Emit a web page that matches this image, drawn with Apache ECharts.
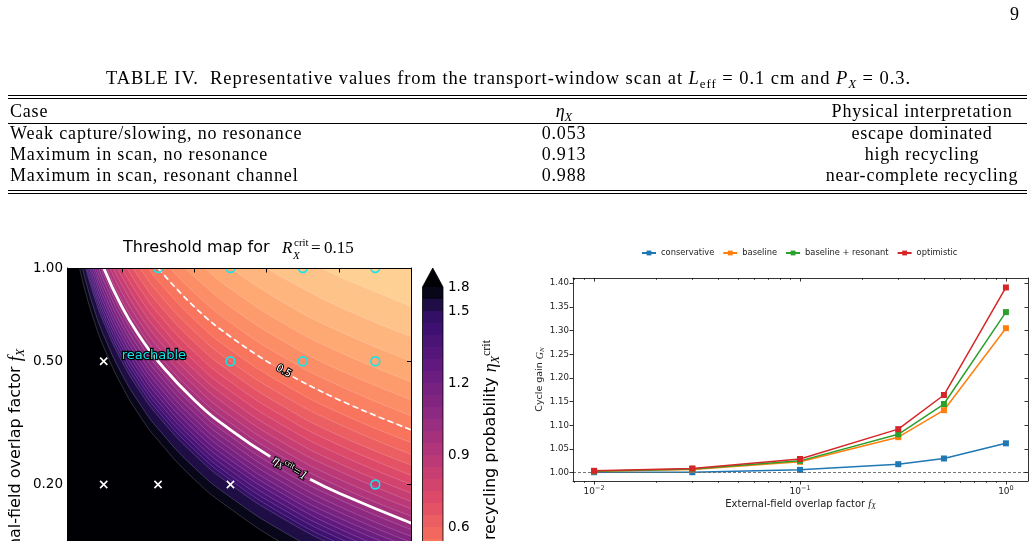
<!DOCTYPE html>
<html>
<head>
<meta charset="utf-8">
<title>Transport-window scan</title>
<script src="https://cdn.jsdelivr.net/npm/echarts@6/dist/echarts.min.js"></script>
<style>
  html, body { margin: 0; padding: 0; background: #fff; overflow: hidden; }
  body { width: 1035px; height: 541px; position: relative; font-family: "Liberation Serif", serif; color: #000; }
  #chart { position: absolute; left: 0; top: 0; width: 1035px; height: 700px; }
  .txt { position: absolute; white-space: nowrap; line-height: 1; }
  .mid { transform: translateX(-50%); }
  .rule { position: absolute; left: 8px; width: 1019px; height: 0; border-top: 1px solid #000; }
  sub { font-size: 70%; vertical-align: -0.3em; line-height: 0; }
</style>
</head>
<body>
<div id="chart"></div>
<div id="table"></div>
<script>
// ---------- table IV ----------
const tableCases = ['Weak capture/slowing, no resonance', 'Maximum in scan, no resonance', 'Maximum in scan, resonant channel'];
const tableEta = ['0.053', '0.913', '0.988'];
const tableMeaning = ['escape dominated', 'high recycling', 'near-complete recycling'];

// ---------- right panel: cycle gain ----------
const overlapFactors = [0.01, 0.03, 0.1, 0.3, 0.5, 1.0];
const gainConservative = [1.001, 1.001, 1.006, 1.018, 1.030, 1.062];
const gainBaseline = [1.003, 1.007, 1.023, 1.075, 1.132, 1.305];
const gainResonant = [1.003, 1.008, 1.025, 1.081, 1.145, 1.339];
const gainOptimistic = [1.004, 1.009, 1.029, 1.092, 1.164, 1.391];
const gainTicks = [1.00, 1.05, 1.10, 1.15, 1.20, 1.25, 1.30, 1.35, 1.40];
const overlapMajorTicks = [0.01, 0.1, 1];
const overlapMinorTicks = [0.008, 0.009, 0.02, 0.03, 0.04, 0.05, 0.06, 0.07, 0.08, 0.09, 0.2, 0.3, 0.4, 0.5, 0.6, 0.7, 0.8, 0.9];

// ---------- left panel: threshold map ----------
const mapXTicks = [0.2, 0.4, 0.6, 0.8, 1.0];
const mapFTicks = [1.0, 0.5, 0.2, 0.1, 0.05];
const cbLevels = [0, 0.05, 0.1, 0.15, 0.2, 0.25, 0.3, 0.35, 0.4, 0.45, 0.5, 0.55, 0.6, 0.65, 0.7, 0.75,
  0.8, 0.85, 0.9, 0.95, 1.0, 1.05, 1.1, 1.15, 1.2, 1.25, 1.3, 1.35, 1.4, 1.45, 1.5, 1.65, 1.8];
const cbTicks = [0, 0.3, 0.6, 0.9, 1.2, 1.5, 1.8];
// contour lines: [x, fX] points, starting where each one leaves the top edge
const contourLevels = [0.2, 0.25, 0.3, 0.35, 0.4, 0.45, 0.5, 0.55, 0.6, 0.65, 0.7, 0.75, 0.8, 0.85, 0.9, 0.95,
  1.0, 1.05, 1.1, 1.15, 1.2, 1.25, 1.3, 1.35, 1.4, 1.45, 1.5, 1.65, 1.8];
const contourPaths = [
  [[0.75, 1], [0.8, 0.938], [1, 0.75]],
  [[0.6, 1], [0.65, 0.923], [0.8, 0.75], [1, 0.6]],
  [[0.5, 1], [0.65, 0.769], [0.8, 0.625], [1, 0.5]],
  [[0.429, 1], [0.5, 0.857], [0.65, 0.659], [0.8, 0.536], [1, 0.429]],
  [[0.375, 1], [0.4, 0.938], [0.5, 0.75], [0.65, 0.577], [0.8, 0.469], [1, 0.375]],
  [[0.333, 1], [0.4, 0.833], [0.5, 0.667], [0.65, 0.513], [0.8, 0.417], [1, 0.333]],
  [[0.3, 1], [0.4, 0.75], [0.5, 0.6], [0.65, 0.462], [0.8, 0.375], [1, 0.3]],
  [[0.273, 1], [0.3, 0.909], [0.4, 0.682], [0.5, 0.545], [0.65, 0.42], [0.8, 0.341], [1, 0.273]],
  [[0.25, 1], [0.3, 0.833], [0.4, 0.625], [0.5, 0.5], [0.65, 0.385], [0.8, 0.313], [1, 0.25]],
  [[0.231, 1], [0.25, 0.923], [0.3, 0.769], [0.4, 0.577], [0.5, 0.462], [0.65, 0.355], [0.8, 0.288], [1, 0.231]],
  [[0.214, 1], [0.25, 0.857], [0.3, 0.714], [0.4, 0.536], [0.5, 0.429], [0.65, 0.33], [0.8, 0.268], [1, 0.214]],
  [[0.2, 1], [0.25, 0.8], [0.3, 0.667], [0.4, 0.5], [0.5, 0.4], [0.65, 0.308], [0.8, 0.25], [1, 0.2]],
  [[0.1875, 1], [0.2, 0.938], [0.25, 0.75], [0.3, 0.625], [0.4, 0.469], [0.5, 0.375], [0.65, 0.288], [0.8, 0.234], [1, 0.1875]],
  [[0.176, 1], [0.2, 0.882], [0.25, 0.706], [0.3, 0.588], [0.4, 0.441], [0.5, 0.353], [0.65, 0.271], [0.8, 0.221], [1, 0.176]],
  [[0.167, 1], [0.2, 0.833], [0.25, 0.667], [0.3, 0.556], [0.4, 0.417], [0.5, 0.333], [0.65, 0.256], [0.8, 0.208], [1, 0.167]],
  [[0.158, 1], [0.2, 0.789], [0.25, 0.632], [0.3, 0.526], [0.4, 0.395], [0.5, 0.316], [0.65, 0.243], [0.8, 0.197], [1, 0.158]],
  [[0.15, 1], [0.2, 0.75], [0.25, 0.6], [0.3, 0.5], [0.4, 0.375], [0.5, 0.3], [0.65, 0.231], [0.8, 0.1875], [1, 0.15]],
  [[0.143, 1], [0.15, 0.952], [0.2, 0.714], [0.25, 0.571], [0.3, 0.476], [0.4, 0.357], [0.5, 0.286], [0.65, 0.22], [0.8, 0.179], [1, 0.143]],
  [[0.136, 1], [0.15, 0.909], [0.2, 0.682], [0.25, 0.545], [0.3, 0.455], [0.4, 0.341], [0.5, 0.273], [0.65, 0.21], [0.8, 0.17], [1, 0.136]],
  [[0.13, 1], [0.15, 0.87], [0.2, 0.652], [0.25, 0.522], [0.3, 0.435], [0.4, 0.326], [0.5, 0.261], [0.65, 0.201], [0.8, 0.163], [1, 0.13]],
  [[0.125, 1], [0.15, 0.833], [0.2, 0.625], [0.25, 0.5], [0.3, 0.417], [0.4, 0.313], [0.5, 0.25], [0.65, 0.192], [0.8, 0.156], [1, 0.125]],
  [[0.12, 1], [0.125, 0.96], [0.15, 0.8], [0.2, 0.6], [0.25, 0.48], [0.3, 0.4], [0.4, 0.3], [0.5, 0.24], [0.65, 0.185], [0.8, 0.15], [1, 0.12]],
  [[0.115, 1], [0.125, 0.923], [0.15, 0.769], [0.2, 0.577], [0.25, 0.462], [0.3, 0.385], [0.4, 0.288], [0.5, 0.231], [0.65, 0.178], [0.8, 0.144], [1, 0.115]],
  [[0.111, 1], [0.125, 0.889], [0.15, 0.741], [0.2, 0.556], [0.25, 0.444], [0.3, 0.37], [0.4, 0.278], [0.5, 0.222], [0.65, 0.171], [0.8, 0.139], [1, 0.111]],
  [[0.107, 1], [0.125, 0.857], [0.15, 0.714], [0.2, 0.536], [0.25, 0.429], [0.3, 0.357], [0.4, 0.268], [0.5, 0.214], [0.65, 0.165], [0.8, 0.134], [1, 0.107]],
  [[0.103, 1], [0.125, 0.828], [0.15, 0.69], [0.2, 0.517], [0.25, 0.414], [0.3, 0.345], [0.4, 0.259], [0.5, 0.207], [0.65, 0.159], [0.8, 0.129], [1, 0.103]],
  [[0.1, 1], [0.125, 0.8], [0.15, 0.667], [0.2, 0.5], [0.25, 0.4], [0.3, 0.333], [0.4, 0.25], [0.5, 0.2], [0.65, 0.154], [0.8, 0.125], [1, 0.1]],
  [[0.0909, 1], [0.1, 0.909], [0.125, 0.727], [0.15, 0.606], [0.2, 0.455], [0.25, 0.364], [0.3, 0.303], [0.4, 0.227], [0.5, 0.182], [0.65, 0.14], [0.8, 0.114], [1, 0.0909]],
  [[0.0833, 1], [0.1, 0.833], [0.125, 0.667], [0.15, 0.556], [0.2, 0.417], [0.25, 0.333], [0.3, 0.278], [0.4, 0.208], [0.5, 0.167], [0.65, 0.128], [0.8, 0.104], [1, 0.0833]]
];
// the two highlighted contours, broken where their labels sit
const critLineParts = [
  [[0.15, 1], [0.2, 0.75], [0.25, 0.6], [0.3, 0.5], [0.4, 0.375], [0.5, 0.3], [0.61, 0.246]],
  [[0.72, 0.208], [0.8, 0.1875], [1, 0.15]]
];
const halfLineParts = [
  [[0.3, 1], [0.4, 0.75], [0.5, 0.6], [0.62, 0.484]],
  [[0.672, 0.446], [0.8, 0.375], [1, 0.3]]
];
const reachablePts = [[0.3, 1], [0.5, 1], [0.7, 1], [0.9, 1], [0.5, 0.5], [0.7, 0.5], [0.9, 0.5], [0.9, 0.2]];
const blockedPts = [[0.15, 0.5], [0.15, 0.2], [0.3, 0.2], [0.5, 0.2]];
// map annotations: position [x, fX], rotation in degrees
const mapNotes = [[0.664, 0.226, -29], [0.647, 0.464, -30], [0.2, 0.52, 0]];

// ---------- table DOM ----------
const tbl = document.getElementById('table');
function put(html, x, baseline, size, cls, extra) {
  const d = document.createElement('div');
  d.className = 'txt ' + (cls || '');
  d.style.left = x + 'px';
  d.style.top = (baseline - 0.8375 * size) + 'px';
  d.style.fontSize = size + 'px';
  if (extra) d.style.cssText += extra;
  d.innerHTML = html;
  tbl.appendChild(d);
}
function rule(y) {
  const d = document.createElement('div');
  d.className = 'rule';
  d.style.top = y + 'px';
  tbl.appendChild(d);
}
put('9', 1010, 20.5, 18);
put('TABLE IV.&nbsp; Representative values from the transport-window scan at <i>L</i><sub>eff</sub> = 0.1 cm and <i>P</i><sub><i>X</i></sub> = 0.3.',
  508.5, 84, 18.5, 'mid', 'letter-spacing:0.94px;');
[95, 98, 123, 190, 193].forEach(rule);
put('Case', 10, 117.5, 18, '', 'letter-spacing:0.8px;');
put('<i>η</i><sub><i>X</i></sub>', 564, 117.5, 18, 'mid');
put('Physical interpretation', 922, 117.5, 18, 'mid', 'letter-spacing:0.8px;');
const rowBase = [139.5, 160.5, 181.5];
tableCases.forEach((c, i) => {
  put(c, 10, rowBase[i], 18, '', 'letter-spacing:0.85px;');
  put(tableEta[i], 564, rowBase[i], 18, 'mid', 'letter-spacing:0.8px;');
  put(tableMeaning[i], 922, rowBase[i], 18, 'mid', 'letter-spacing:0.8px;');
});

// ---------- colours ----------
const magmaStops = ['#000004', '#140e36', '#3b0f70', '#641a80', '#8c2981', '#b73779', '#de4968', '#f7705c', '#fe9f6d', '#fecf92', '#fcfdbf'];
function hexRgb(h) { return [1, 3, 5].map(i => parseInt(h.slice(i, i + 2), 16)); }
function magma(t) {
  t = Math.max(0, Math.min(1, t));
  const p = t * (magmaStops.length - 1);
  const i = Math.min(Math.floor(p), magmaStops.length - 2), k = p - i;
  const a = hexRgb(magmaStops[i]), b = hexRgb(magmaStops[i + 1]);
  return 'rgb(' + a.map((v, j) => Math.round(v + (b[j] - v) * k)).join(',') + ')';
}
const etaMax = 1.8;
const bandColor = (lo, hi) => magma(1 - (lo + hi) / 2 / etaMax);
const cyan = '#17e3e8';
const ink = '#000';

// ---------- chart ----------
const chart = echarts.init(document.getElementById('chart'));

const mathRich = {
  it: { fontFamily: 'Liberation Serif', fontStyle: 'italic', fontSize: 18, color: ink },
  sb: { fontFamily: 'Liberation Serif', fontStyle: 'italic', fontSize: 12, color: ink, padding: [9, 0, 0, 0] }
};
const curve = { smooth: 0.5, symbol: 'none', silent: true, xAxisIndex: 0, yAxisIndex: 0 };

const series = [];
// filled bands (largest region first)
for (let i = contourLevels.length - 1; i >= 0; i--) {
  const lo = i > 0 ? contourLevels[i - 1] : 0.15;
  series.push(Object.assign({
    type: 'line', data: contourPaths[i], z: 1,
    lineStyle: { width: 0 },
    areaStyle: { color: bandColor(lo, contourLevels[i]), opacity: 1, origin: 'end' }
  }, curve));
}
// thin contour lines
contourPaths.forEach(p => series.push(Object.assign({
  type: 'line', data: p, z: 2, lineStyle: { color: 'rgba(255,255,255,0.3)', width: 0.6 }
}, curve)));
critLineParts.forEach(p => series.push(Object.assign({
  type: 'line', data: p, z: 3, lineStyle: { color: '#fff', width: 2.8 }
}, curve)));
halfLineParts.forEach(p => series.push(Object.assign({
  type: 'line', data: p, z: 3, lineStyle: { color: '#fff', width: 1.7, type: [6, 3.5] }
}, curve)));
// scan markers
series.push({
  type: 'custom', xAxisIndex: 0, yAxisIndex: 0, clip: true, z: 5, silent: true,
  data: reachablePts,
  renderItem: (params, api) => {
    const c = api.coord([api.value(0), api.value(1)]);
    return { type: 'circle', shape: { cx: c[0], cy: c[1], r: 4.4 }, style: { fill: 'none', stroke: cyan, lineWidth: 1.6 } };
  }
});
series.push({
  type: 'custom', xAxisIndex: 0, yAxisIndex: 0, clip: true, z: 5, silent: true,
  data: blockedPts,
  renderItem: (params, api) => {
    const c = api.coord([api.value(0), api.value(1)]), h = 3.6;
    return {
      type: 'group', children: [
        { type: 'line', shape: { x1: c[0] - h, y1: c[1] - h, x2: c[0] + h, y2: c[1] + h }, style: { stroke: '#fff', lineWidth: 1.6 } },
        { type: 'line', shape: { x1: c[0] - h, y1: c[1] + h, x2: c[0] + h, y2: c[1] - h }, style: { stroke: '#fff', lineWidth: 1.6 } }
      ]
    };
  }
});
// map annotations (contour labels and the "reachable" tag)
const noteStyles = [
  {
    text: '{e|η}{s|X}{p|crit}{e|=1}', align: 'center', verticalAlign: 'middle',
    rich: {
      e: { font: 'italic 13px "Liberation Serif"', fill: '#fff', stroke: '#000', lineWidth: 2 },
      s: { font: 'italic 8px "Liberation Serif"', fill: '#fff', stroke: '#000', lineWidth: 2, padding: [6, 0, 0, 0] },
      p: { font: '8px "Liberation Serif"', fill: '#fff', stroke: '#000', lineWidth: 2, padding: [0, 0, 6, 0] }
    }
  },
  { text: '0.5', font: '10px "DejaVu Sans"', fill: '#fff', stroke: '#000', lineWidth: 2, align: 'center', verticalAlign: 'middle' },
  { text: 'reachable', font: '13px "DejaVu Sans"', fill: cyan, stroke: '#000', lineWidth: 2.5, align: 'left', verticalAlign: 'middle' }
];
series.push({
  type: 'custom', xAxisIndex: 0, yAxisIndex: 0, clip: false, z: 6, silent: true,
  data: mapNotes,
  renderItem: (params, api) => {
    const c = api.coord([api.value(0), api.value(1)]);
    return {
      type: 'text', x: c[0], y: c[1], rotation: api.value(2) * Math.PI / 180,
      style: noteStyles[params.dataIndex]
    };
  }
});
// colour bar
series.push({
  type: 'bar', xAxisIndex: 2, yAxisIndex: 2, barCategoryGap: '0%', silent: true,
  data: cbLevels.slice(0, -1).map((lv, i) => ({ value: 1, itemStyle: { color: bandColor(lv, cbLevels[i + 1]) } }))
});
// cycle gain lines
const gainSeries = [
  ['conservative', gainConservative, '#1f77b4'],
  ['baseline', gainBaseline, '#ff7f0e'],
  ['baseline + resonant', gainResonant, '#2ca02c'],
  ['optimistic', gainOptimistic, '#d62728']
];
gainSeries.forEach(([name, vals, color], k) => series.push({
  name, type: 'line', xAxisIndex: 3, yAxisIndex: 4, z: 4 + k,
  data: overlapFactors.map((x, i) => [x, vals[i]]),
  symbol: 'rect', symbolSize: 6, color,
  lineStyle: { width: 1.5, color }, itemStyle: { color },
  markLine: k === 0 ? {
    silent: true, symbol: 'none', label: { show: false },
    lineStyle: { color: '#666', width: 0.9, type: [3, 2] },
    data: [{ yAxis: 1 }]
  } : undefined
}));

function spine(extra) {
  return Object.assign({
    axisLine: { show: true, lineStyle: { color: ink, width: 1 } },
    axisTick: { show: true, inside: true, length: 4.5, lineStyle: { color: ink, width: 1 } },
    axisLabel: { show: false },
    splitLine: { show: false },
    z: 10
  }, extra);
}
const sub = size => ({
  it: { fontFamily: 'Liberation Serif', fontStyle: 'italic', fontSize: size, color: '#222' },
  sb: { fontFamily: 'Liberation Serif', fontStyle: 'italic', fontSize: size * 0.7, color: '#222', padding: [size * 0.5, 0, 0, 0] }
});

const option = {
  animation: false,
  textStyle: { fontFamily: 'DejaVu Sans' },
  grid: [
    { left: 67.5, top: 268, width: 344, height: 403, show: true, backgroundColor: '#000004', borderWidth: 0 },
    { left: 422.5, top: 287, width: 20.5, height: 384 },
    { left: 573, top: 278, width: 455, height: 203 }
  ],
  legend: {
    data: gainSeries.map(s => s[0]), left: 636, top: 244,
    itemWidth: 14, itemHeight: 6, itemGap: 8,
    textStyle: { fontSize: 8.3, color: '#222' }
  },
  xAxis: [
    spine({
      gridIndex: 0, type: 'value', min: 0.05, max: 1, position: 'bottom',
      axisTick: { show: true, inside: true, length: 4.5, customValues: mapXTicks, lineStyle: { color: ink } },
      axisLabel: { show: true, customValues: mapXTicks, fontSize: 13.5, color: ink, formatter: v => v.toFixed(1) }
    }),
    spine({ gridIndex: 0, type: 'value', min: 0.05, max: 1, position: 'top',
      axisTick: { show: true, inside: true, length: 4.5, customValues: mapXTicks, lineStyle: { color: ink } } }),
    { gridIndex: 1, type: 'value', min: 0, max: 1, show: false },
    {
      gridIndex: 2, type: 'log', min: 0.0079, max: 1.28, position: 'bottom', z: 10,
      axisLine: { show: true, lineStyle: { color: ink, width: 0.8 } },
      axisTick: { show: true, customValues: overlapMajorTicks, length: 3.5, lineStyle: { color: ink, width: 0.8 } },
      axisLabel: {
        customValues: overlapMajorTicks, margin: 4, color: '#222',
        formatter: v => { const e = Math.round(Math.log10(v)); return '{b|10}{e|' + (e < 0 ? '\u2212' + (-e) : e) + '}'; },
        rich: { b: { fontSize: 9, color: '#222' }, e: { fontSize: 6.5, color: '#222', padding: [0, 0, 7, 0] } }
      },
      splitLine: { show: false },
      name: 'External-field overlap factor {it|f}{sb|X}', nameLocation: 'middle', nameGap: 17,
      nameTextStyle: { fontSize: 10, color: '#222', rich: sub(10.5) }
    },
    { gridIndex: 2, type: 'log', min: 0.0079, max: 1.28, position: 'bottom', axisLine: { show: false },
      axisTick: { show: true, customValues: overlapMinorTicks, length: 2, lineStyle: { color: ink, width: 0.6 } },
      axisLabel: { show: false }, splitLine: { show: false } },
    { gridIndex: 2, type: 'log', min: 0.0079, max: 1.28, position: 'top', z: 10,
      axisLine: { show: true, lineStyle: { color: ink, width: 0.8 } },
      axisTick: { show: true, inside: true, customValues: overlapMajorTicks, length: 3.5, lineStyle: { color: ink, width: 0.8 } },
      axisLabel: { show: false }, splitLine: { show: false } },
    { gridIndex: 2, type: 'log', min: 0.0079, max: 1.28, position: 'top', axisLine: { show: false },
      axisTick: { show: true, inside: true, customValues: overlapMinorTicks, length: 2, lineStyle: { color: ink, width: 0.6 } },
      axisLabel: { show: false }, splitLine: { show: false } }
  ],
  yAxis: [
    spine({
      gridIndex: 0, type: 'log', logBase: 10, min: 0.05, max: 1, position: 'left',
      axisTick: { show: true, inside: true, length: 4.5, customValues: mapFTicks, lineStyle: { color: ink } },
      axisLabel: { show: true, customValues: mapFTicks, fontSize: 13.5, color: ink, margin: 4.5, formatter: v => v.toFixed(2) },
      name: 'External-field overlap factor {it|f}{sb|X}', nameLocation: 'middle', nameGap: 41,
      nameTextStyle: { fontSize: 16, color: ink, rich: mathRich }
    }),
    spine({ gridIndex: 0, type: 'log', logBase: 10, min: 0.05, max: 1, position: 'right',
      axisTick: { show: true, inside: true, length: 4.5, customValues: mapFTicks, lineStyle: { color: ink } } }),
    { gridIndex: 1, type: 'category', data: cbLevels.slice(0, -1).map(String), show: false },
    {
      gridIndex: 1, type: 'value', min: 0, max: cbLevels.length - 1, position: 'right',
      axisLine: { show: false }, splitLine: { show: false },
      axisTick: { show: true, inside: true, length: 3.5, customValues: cbTicks.map(v => cbLevels.indexOf(v)), lineStyle: { color: ink } },
      axisLabel: { customValues: cbTicks.map(v => cbLevels.indexOf(v)), margin: 5, fontSize: 13.5, color: ink,
        formatter: i => cbLevels[i].toFixed(1) }
    },
    {
      gridIndex: 2, type: 'value', min: 0.9825, max: 1.411, position: 'left', z: 10,
      axisLine: { show: true, lineStyle: { color: ink, width: 0.8 } },
      axisTick: { show: true, customValues: gainTicks, length: 3.5, lineStyle: { color: ink, width: 0.8 } },
      axisLabel: { customValues: gainTicks, margin: 4, fontSize: 8.6, color: '#222', formatter: v => v.toFixed(2) },
      splitLine: { show: false },
      name: 'Cycle gain {it|G}{sb|N}', nameLocation: 'middle', nameGap: 27,
      nameTextStyle: { fontSize: 9.5, color: '#222', rich: sub(10) }
    },
    { gridIndex: 2, type: 'value', min: 0.9825, max: 1.411, position: 'right', z: 10,
      axisLine: { show: true, lineStyle: { color: ink, width: 0.8 } },
      axisTick: { show: true, inside: true, customValues: gainTicks, length: 3.5, lineStyle: { color: ink, width: 0.8 } },
      axisLabel: { show: false }, splitLine: { show: false } }
  ],
  graphic: [
    // panel title
    { type: 'text', left: 123, top: 240, style: { text: 'Threshold map for', font: '16px "DejaVu Sans"', fill: ink } },
    { type: 'text', x: 282, y: 249, style: { text: 'R', font: 'italic 17px "Liberation Serif"', fill: ink, verticalAlign: 'middle' } },
    { type: 'text', x: 294, y: 243, style: { text: 'crit', font: '11px "Liberation Serif"', fill: ink, verticalAlign: 'middle' } },
    { type: 'text', x: 293, y: 256, style: { text: 'X', font: 'italic 11px "Liberation Serif"', fill: ink, verticalAlign: 'middle' } },
    { type: 'text', x: 311, y: 249, style: { text: '=\u20090.15', font: '17px "Liberation Serif"', fill: ink, verticalAlign: 'middle' } },
    // colour-bar extension triangle and outline
    { type: 'polygon', z: 20, shape: { points: [[422.5, 287], [443, 287], [432.75, 268]] }, style: { fill: '#000004' } },
    { type: 'polyline', z: 21, shape: { points: [[422.5, 700], [422.5, 287], [432.75, 268], [443, 287], [443, 700]] },
      style: { stroke: ink, lineWidth: 0.8, fill: null } },
    // colour-bar label
    { type: 'text', x: 491, y: 340, rotation: Math.PI / 2, z: 20,
      style: { text: '{t|recycling probability }{it|η}{sb|X}{sp|crit}', align: 'right', verticalAlign: 'middle',
        rich: {
          t: { font: '16px "DejaVu Sans"', fill: ink },
          it: { font: 'italic 18px "Liberation Serif"', fill: ink },
          sb: { font: 'italic 12px "Liberation Serif"', fill: ink, padding: [9, 0, 0, 0] },
          sp: { font: '12px "Liberation Serif"', fill: ink, padding: [0, 0, 9, 0] }
        } } }
  ],
  series
};
chart.setOption(option);
</script>
</body>
</html>
